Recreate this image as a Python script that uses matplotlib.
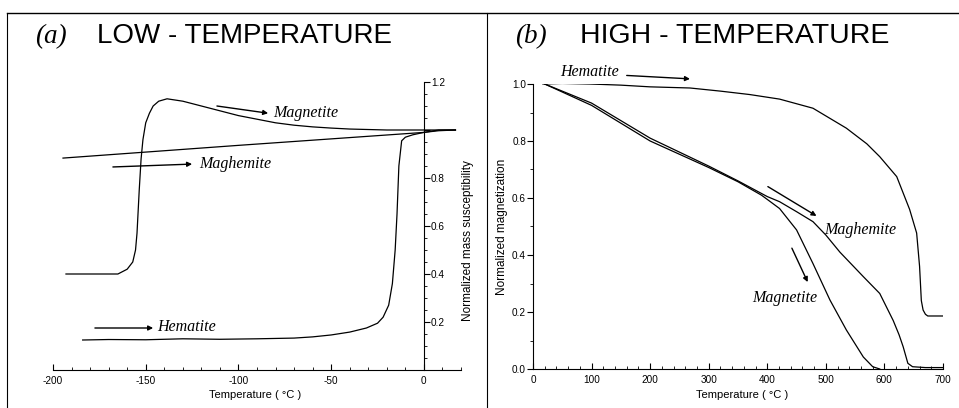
import numpy as np
import matplotlib
matplotlib.use('Agg')
import matplotlib.pyplot as plt
from matplotlib.lines import Line2D
from matplotlib.ticker import MultipleLocator, FixedLocator

plt.rcParams['font.family'] = ['Liberation Sans', 'DejaVu Sans']
plt.rcParams['axes.unicode_minus'] = False

# (a) low temperature: normalized mass susceptibility
mag_lo_t = [-193, -180, -170, -165, -160, -157, -155.5, -154.7, -153.5, -152.5, -151.5,
            -150, -148, -146, -143, -138.5, -130, -120, -110, -100, -90, -80, -70, -60,
            -50, -40, -30, -20, -10, 0, 8, 17]
mag_lo_y = [0.40, 0.40, 0.40, 0.40, 0.42, 0.45, 0.50, 0.57, 0.75, 0.88, 0.96,
            1.03, 1.07, 1.10, 1.12, 1.13, 1.12, 1.10, 1.08, 1.06, 1.045, 1.03, 1.02, 1.013,
            1.008, 1.004, 1.002, 1.0, 1.0, 1.0, 1.0, 1.0]

mgh_lo_t = [-194.6, -100, 0, 8, 17]
mgh_lo_y = [0.883, 0.936, 0.99, 0.997, 1.0]

hem_lo_t = [-184, -170, -150, -130, -110, -90, -70, -60, -50, -40, -31, -25, -22, -19,
            -17, -15.5, -14.5, -13.5, -12, -10, -6, 0, 8, 17]
hem_lo_y = [0.125, 0.127, 0.126, 0.13, 0.128, 0.13, 0.133, 0.138, 0.146, 0.158, 0.175,
            0.195, 0.22, 0.27, 0.36, 0.50, 0.65, 0.85, 0.955, 0.97, 0.98, 0.99, 1.0, 1.0]

# (b) high temperature: normalized magnetization
hem_hi_t = [17, 50, 97, 150, 200, 268, 320, 370, 421, 478, 535, 570, 592, 621, 643, 655,
            660, 663, 666, 670, 674, 690, 700]
hem_hi_y = [1.0, 1.002, 1.0, 0.996, 0.99, 0.986, 0.975, 0.963, 0.947, 0.915, 0.845, 0.79,
            0.745, 0.675, 0.56, 0.477, 0.36, 0.24, 0.207, 0.192, 0.186, 0.186, 0.186]

mgh_hi_t = [20, 100, 200, 300, 350, 400, 421, 450, 478, 500, 524, 564, 592, 615, 625, 632,
            640, 648, 670, 700]
mgh_hi_y = [1.0, 0.933, 0.81, 0.712, 0.66, 0.605, 0.587, 0.552, 0.517, 0.47, 0.41, 0.324,
            0.265, 0.17, 0.12, 0.078, 0.02, 0.008, 0.005, 0.005]

mag_hi_t = [20, 100, 200, 300, 350, 390, 400, 421, 450, 478, 507, 535, 564, 580, 592]
mag_hi_y = [1.0, 0.925, 0.8, 0.707, 0.657, 0.61, 0.595, 0.563, 0.488, 0.37, 0.242,
            0.137, 0.042, 0.008, 0.0]

lo_yticks = [0.2, 0.4, 0.6, 0.8, 1.0, 1.2]
lo_ylabels = ['0.2', '0.4', '0.6', '0.8', '', '1.2']
hi_yticks = [0.0, 0.2, 0.4, 0.6, 0.8, 1.0]
hi_ylabels = ['0.0', '0.2', '0.4', '0.6', '0.8', '1.0']

W, H = 959, 408
fig = plt.figure(figsize=(W / 100, H / 100), dpi=100)

serif_it = dict(family='Liberation Serif', style='italic')
arrow = dict(arrowstyle='-|>', color='k', lw=1.0, mutation_scale=7, shrinkA=0, shrinkB=0)
lw = 0.9

# ---- panel (a) ----
ax1 = fig.add_axes([53 / W, 1 - 370 / H, 408 / W, 288 / H])
ax1.plot(mag_lo_t, mag_lo_y, color='k', lw=lw)
ax1.plot(mgh_lo_t, mgh_lo_y, color='k', lw=lw)
ax1.plot(hem_lo_t, hem_lo_y, color='k', lw=lw)
ax1.set_xlim(-200, 20)
ax1.set_ylim(0, 1.2)
ax1.spines['top'].set_visible(False)
ax1.spines['left'].set_visible(False)
ax1.spines['right'].set_position(('data', 0))
ax1.yaxis.tick_right()
ax1.yaxis.set_major_locator(FixedLocator(lo_yticks))
ax1.set_yticklabels(lo_ylabels)
ax1.yaxis.set_minor_locator(MultipleLocator(0.05))
ax1.set_xticks([-200, -150, -100, -50, 0])
ax1.xaxis.set_minor_locator(MultipleLocator(10))
ax1.tick_params(axis='x', which='both', direction='in', labelsize=7.2, pad=4)
ax1.tick_params(axis='x', which='major', length=4)
ax1.tick_params(axis='x', which='minor', length=2.5)
ax1.tick_params(axis='y', which='both', direction='out', labelsize=7.2, pad=1)
ax1.tick_params(axis='y', which='major', length=4)
ax1.tick_params(axis='y', which='minor', length=2)
ax1.set_xlabel('Temperature ( °C )', fontsize=8)
ax1.xaxis.set_label_coords(0.496, -0.07)
ax1.yaxis.set_label_position('right')
ax1.set_ylabel('Normalized mass susceptibility', fontsize=8.5)
ax1.yaxis.set_label_coords(1.003, 0.45)

ax1.annotate('', xy=(-84, 1.07), xytext=(-111.6, 1.10), arrowprops=arrow)
ax1.text(-81.5, 1.07, 'Magnetite', fontsize=11.5, va='center', ha='left', **serif_it)
ax1.annotate('', xy=(-125, 0.858), xytext=(-167.7, 0.846), arrowprops=arrow)
ax1.text(-121, 0.858, 'Maghemite', fontsize=11.5, va='center', ha='left', **serif_it)
ax1.annotate('', xy=(-146, 0.175), xytext=(-177.4, 0.175), arrowprops=arrow)
ax1.text(-144, 0.178, 'Hematite', fontsize=11.5, va='center', ha='left', **serif_it)

# ---- panel (b) ----
ax2 = fig.add_axes([533 / W, 1 - 369 / H, 410 / W, 285 / H])
ax2.plot(hem_hi_t, hem_hi_y, color='k', lw=lw)
ax2.plot(mgh_hi_t, mgh_hi_y, color='k', lw=lw)
ax2.plot(mag_hi_t, mag_hi_y, color='k', lw=lw)
ax2.set_xlim(0, 700)
ax2.set_ylim(0, 1.0)
ax2.spines['top'].set_visible(False)
ax2.spines['right'].set_visible(False)
ax2.yaxis.set_major_locator(FixedLocator(hi_yticks))
ax2.set_yticklabels(hi_ylabels)
ax2.yaxis.set_minor_locator(MultipleLocator(0.1))
ax2.xaxis.set_major_locator(MultipleLocator(100))
ax2.xaxis.set_minor_locator(MultipleLocator(20))
ax2.tick_params(axis='x', which='both', direction='in', labelsize=7.2, pad=4)
ax2.tick_params(axis='x', which='major', length=4)
ax2.tick_params(axis='x', which='minor', length=2.5)
ax2.tick_params(axis='y', which='both', direction='out', labelsize=7.2, pad=1)
ax2.tick_params(axis='y', which='major', length=4)
ax2.tick_params(axis='y', which='minor', length=2)
ax2.set_xlabel('Temperature ( °C )', fontsize=8)
ax2.xaxis.set_label_coords(0.51, -0.072)
ax2.set_ylabel('Normalized magnetization', fontsize=8.5)
ax2.yaxis.set_label_coords(-0.062, 0.5)

ax2.text(46, 1.042, 'Hematite', fontsize=11.5, va='center', ha='left', clip_on=False, **serif_it)
ax2.annotate('', xy=(268, 1.018), xytext=(160, 1.03), arrowprops=arrow, annotation_clip=False)
ax2.annotate('', xy=(484, 0.537), xytext=(401, 0.64), arrowprops=arrow)
ax2.text(498, 0.488, 'Maghemite', fontsize=11.5, va='center', ha='left', **serif_it)
ax2.annotate('', xy=(469, 0.305), xytext=(442, 0.424), arrowprops=arrow)
ax2.text(430, 0.249, 'Magnetite', fontsize=11.5, va='center', ha='center', **serif_it)

# ---- titles ----
fig.text(35 / W, 1 - 43 / H, '(a)', fontsize=19.5, va='baseline', ha='left', **serif_it)
fig.text(97 / W, 1 - 43 / H, 'LOW - TEMPERATURE', fontsize=20, va='baseline', ha='left')
fig.text(515 / W, 1 - 43 / H, '(b)', fontsize=19.5, va='baseline', ha='left', **serif_it)
fig.text(580 / W, 1 - 43 / H, 'HIGH - TEMPERATURE', fontsize=20.5, va='baseline', ha='left')

# ---- frame lines of the scanned figure ----
fig.add_artist(Line2D([7 / W, 1], [1 - 12.5 / H] * 2, color='k', lw=1.0, transform=fig.transFigure))
fig.add_artist(Line2D([7 / W] * 2, [0, 1 - 12.5 / H], color='k', lw=0.8, transform=fig.transFigure))
fig.add_artist(Line2D([487 / W] * 2, [0, 1 - 12.5 / H], color='k', lw=0.8, transform=fig.transFigure))

fig.savefig('out.png', dpi=100)
